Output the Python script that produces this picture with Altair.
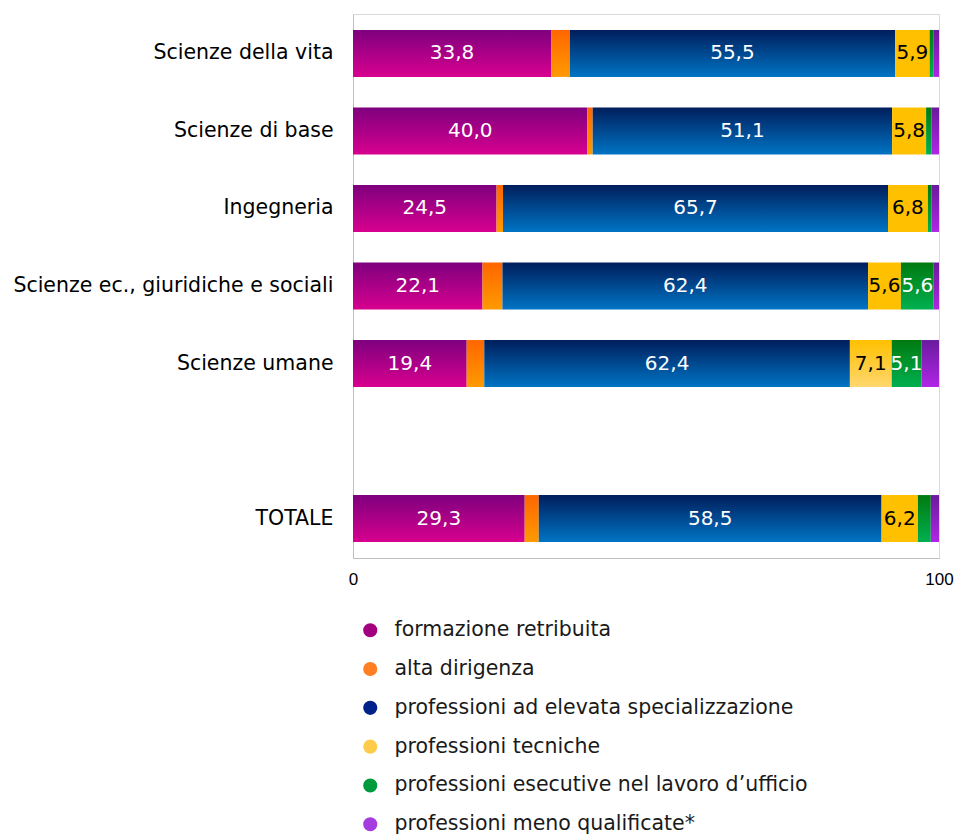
import altair as alt
import pandas as pd

areas = ["Scienze della vita", "Scienze di base", "Ingegneria",
         "Scienze ec., giuridiche e sociali", "Scienze umane", "TOTALE"]
y_domain = areas[:5] + [" "] + areas[5:]
categories = ["formazione retribuita", "alta dirigenza",
              "professioni ad elevata specializzazione", "professioni tecniche",
              "professioni esecutive nel lavoro d\u2019ufficio",
              "professioni meno qualificate*"]
formazione = [33.8, 40.0, 24.5, 22.1, 19.4, 29.3]
dirigenza = [3.2, 0.9, 1.1, 3.4, 3.0, 2.4]
elevata = [55.5, 51.1, 65.7, 62.4, 62.4, 58.5]
tecniche = [5.9, 5.8, 6.8, 5.6, 7.1, 6.2]
esecutive = [0.7, 0.9, 0.6, 5.6, 5.1, 2.2]
meno = [0.9, 1.3, 1.3, 0.9, 3.0, 1.4]
series = [formazione, dirigenza, elevata, tecniche, esecutive, meno]

rows = []
for i, a in enumerate(areas):
    for j, c in enumerate(categories):
        rows.append({"area": a, "category": c, "order": j, "value": series[j][i]})
df = pd.DataFrame(rows)

grad_stops = {
    categories[0]: ("#7E007E", "#D8008F"),
    categories[1]: ("#FF6600", "#FF9A00"),
    categories[2]: ("#001E5C", "#0074C4"),
    categories[3]: ("#FFC000", "#FFC000"),
    categories[4]: ("#007A10", "#00B050"),
    categories[5]: ("#6A1A9E", "#B026E6"),
}
legend_colors = ["#A3007F", "#FF7F22", "#00208A", "#FFCB4A", "#009A3E", "#A43CE0"]

def grad(top, bottom):
    return alt.Gradient(
        gradient="linear",
        stops=[alt.GradientStop(color=top, offset=0),
               alt.GradientStop(color=bottom, offset=1)],
        x1=0, x2=0, y1=0, y2=1,
    )

LABEL_FONT = "DejaVu Sans"

base = alt.Chart(df).transform_stack(
    stack="value", groupby=["area"],
    sort=[alt.SortField("order", order="ascending")],
    as_=["x0", "x1"],
)

y_enc = alt.Y(
    "area:N",
    scale=alt.Scale(domain=y_domain, paddingInner=0.394, paddingOuter=0.206),
    axis=alt.Axis(title=None, ticks=False, labelFontSize=20.5, labelFont=LABEL_FONT,
                  labelColor="#000000", labelPadding=20, domainColor="#BFBFBF",
                  labelLimit=400),
)
x_enc = alt.X(
    "x0:Q",
    scale=alt.Scale(domain=[0, 100], nice=False, zero=True),
    axis=alt.Axis(title=None, values=[0, 100], ticks=False, grid=False,
                  labelFontSize=17, labelFont="Liberation Sans", labelColor="#000000",
                  labelPadding=13, labelFlush=False, domainColor="#BFBFBF"),
)

layers = []
for c in categories:
    top, bottom = grad_stops[c]
    layers.append(
        base.transform_filter(alt.datum.category == c)
        .mark_bar(color=grad(top, bottom), strokeWidth=0)
        .encode(x=x_enc, x2="x1:Q", y=y_enc)
    )

# lighter technical segment for Scienze umane
layers.append(
    base.transform_filter(
        (alt.datum.category == categories[3]) & (alt.datum.area == "Scienze umane"))
    .mark_bar(color=grad("#FFC000", "#FFD76E"), strokeWidth=0)
    .encode(x=x_enc, x2="x1:Q", y=y_enc)
)

labels = (
    base.transform_filter(alt.datum.value >= 5)
    .transform_calculate(
        mid="(datum.x0 + datum.x1) / 2",
        label="replace(format(datum.value, '.1f'), '.', ',')",
    )
    .mark_text(fontSize=20, font=LABEL_FONT, baseline="middle", align="center")
    .encode(
        x=alt.X("mid:Q"),
        y=y_enc,
        text="label:N",
        color=alt.condition(alt.datum.category == categories[3],
                            alt.value("#000000"), alt.value("#FFFFFF")),
    )
)

legend_layer = base.mark_point(opacity=0, filled=True).encode(
    x=x_enc,
    y=y_enc,
    color=alt.Color(
        "category:N",
        scale=alt.Scale(domain=categories, range=legend_colors),
        legend=alt.Legend(
            title=None, orient="none", legendX=7, legendY=606,
            direction="vertical", symbolType="circle", symbolSize=200,
            symbolOpacity=1, symbolStrokeWidth=0, labelFontSize=20.5,
            labelFont=LABEL_FONT, labelColor="#1A1A1A", labelLimit=0,
            rowPadding=17.8, labelOffset=14,
        ),
    ),
)

chart = alt.layer(*layers, labels, legend_layer).properties(
    width=586, height=544,
    padding={"left": 353, "top": 14, "right": 15, "bottom": 281},
    autosize=alt.AutoSizeParams(type="none"),
).configure_view(stroke="#D9D9D9", strokeWidth=1)

chart.save("out.html", embed_options={"renderer": "svg", "actions": False})
